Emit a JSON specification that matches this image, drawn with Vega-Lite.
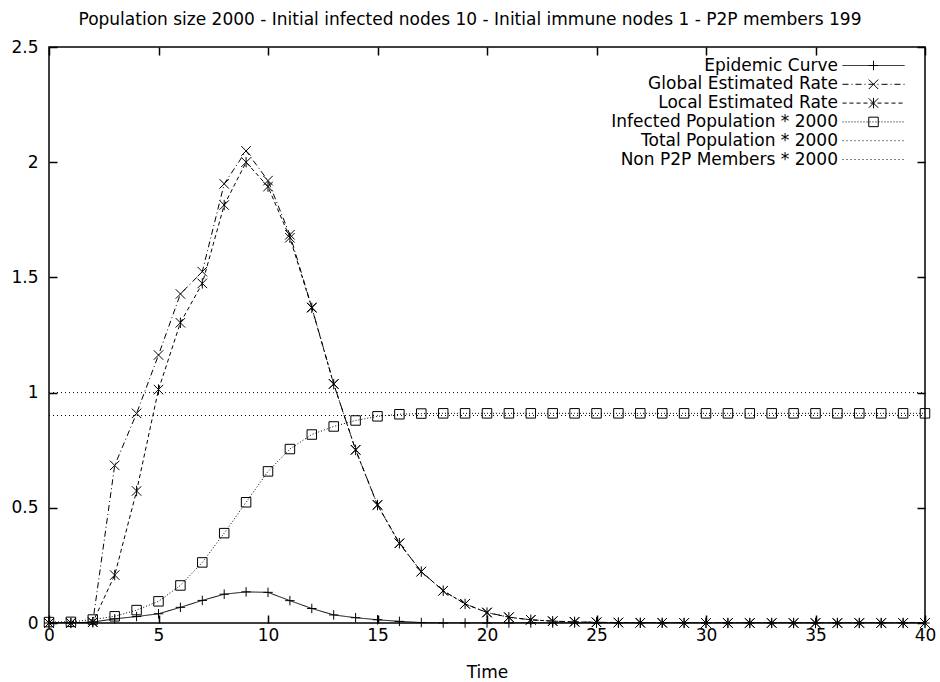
{
  "$schema": "https://vega.github.io/schema/vega-lite/v6.json",
  "width": 876,
  "height": 576,
  "autosize": {"type": "none"},
  "padding": {"left": 49, "top": 47, "right": 15, "bottom": 59},
  "background": "white",
  "title": {
    "text": "Population size 2000 - Initial infected nodes 10 - Initial immune nodes 1 - P2P members 199",
    "font": "DejaVu Sans",
    "fontSize": 17,
    "fontWeight": "normal",
    "color": "black",
    "anchor": "middle",
    "dx": -17,
    "offset": 9
  },
  "config": {
    "view": {"stroke": "black", "strokeWidth": 1.5},
    "axis": {
      "labelFont": "DejaVu Sans",
      "labelFontSize": 17,
      "labelColor": "black",
      "labelFlush": false,
      "labelOverlap": false,
      "titleFont": "DejaVu Sans",
      "titleFontSize": 17,
      "titleFontWeight": "normal",
      "titleColor": "black",
      "tickColor": "black",
      "tickWidth": 1.5,
      "tickSize": -8,
      "domain": false,
      "grid": false
    },
    "legend": {
      "padding": 0,
      "labelFont": "DejaVu Sans",
      "labelFontSize": 17,
      "labelColor": "black",
      "labelLimit": 500
    }
  },
  "data": {
    "values": [
      {"t": 0, "Epidemic Curve": 0, "Global Estimated Rate": 0, "Local Estimated Rate": 0, "Infected Population * 2000": 0.004, "Total Population * 2000": 1, "Non P2P Members * 2000": 0.9005},
      {"t": 1, "Epidemic Curve": 0, "Global Estimated Rate": 0, "Local Estimated Rate": 0, "Infected Population * 2000": 0.005, "Total Population * 2000": 1, "Non P2P Members * 2000": 0.9005},
      {"t": 2, "Epidemic Curve": 0.004, "Global Estimated Rate": 0.004, "Local Estimated Rate": 0.003, "Infected Population * 2000": 0.015, "Total Population * 2000": 1, "Non P2P Members * 2000": 0.9005},
      {"t": 3, "Epidemic Curve": 0.018, "Global Estimated Rate": 0.684, "Local Estimated Rate": 0.208, "Infected Population * 2000": 0.029, "Total Population * 2000": 1, "Non P2P Members * 2000": 0.9005},
      {"t": 4, "Epidemic Curve": 0.028, "Global Estimated Rate": 0.91, "Local Estimated Rate": 0.573, "Infected Population * 2000": 0.056, "Total Population * 2000": 1, "Non P2P Members * 2000": 0.9005},
      {"t": 5, "Epidemic Curve": 0.04, "Global Estimated Rate": 1.163, "Local Estimated Rate": 1.013, "Infected Population * 2000": 0.094, "Total Population * 2000": 1, "Non P2P Members * 2000": 0.9005},
      {"t": 6, "Epidemic Curve": 0.068, "Global Estimated Rate": 1.428, "Local Estimated Rate": 1.303, "Infected Population * 2000": 0.163, "Total Population * 2000": 1, "Non P2P Members * 2000": 0.9005},
      {"t": 7, "Epidemic Curve": 0.098, "Global Estimated Rate": 1.525, "Local Estimated Rate": 1.474, "Infected Population * 2000": 0.263, "Total Population * 2000": 1, "Non P2P Members * 2000": 0.9005},
      {"t": 8, "Epidemic Curve": 0.125, "Global Estimated Rate": 1.906, "Local Estimated Rate": 1.814, "Infected Population * 2000": 0.39, "Total Population * 2000": 1, "Non P2P Members * 2000": 0.9005},
      {"t": 9, "Epidemic Curve": 0.135, "Global Estimated Rate": 2.049, "Local Estimated Rate": 2.0, "Infected Population * 2000": 0.524, "Total Population * 2000": 1, "Non P2P Members * 2000": 0.9005},
      {"t": 10, "Epidemic Curve": 0.133, "Global Estimated Rate": 1.92, "Local Estimated Rate": 1.894, "Infected Population * 2000": 0.658, "Total Population * 2000": 1, "Non P2P Members * 2000": 0.9005},
      {"t": 11, "Epidemic Curve": 0.097, "Global Estimated Rate": 1.685, "Local Estimated Rate": 1.672, "Infected Population * 2000": 0.755, "Total Population * 2000": 1, "Non P2P Members * 2000": 0.9005},
      {"t": 12, "Epidemic Curve": 0.063, "Global Estimated Rate": 1.37, "Local Estimated Rate": 1.368, "Infected Population * 2000": 0.818, "Total Population * 2000": 1, "Non P2P Members * 2000": 0.9005},
      {"t": 13, "Epidemic Curve": 0.035, "Global Estimated Rate": 1.038, "Local Estimated Rate": 1.037, "Infected Population * 2000": 0.853, "Total Population * 2000": 1, "Non P2P Members * 2000": 0.9005},
      {"t": 14, "Epidemic Curve": 0.023, "Global Estimated Rate": 0.752, "Local Estimated Rate": 0.751, "Infected Population * 2000": 0.879, "Total Population * 2000": 1, "Non P2P Members * 2000": 0.9005},
      {"t": 15, "Epidemic Curve": 0.014, "Global Estimated Rate": 0.513, "Local Estimated Rate": 0.512, "Infected Population * 2000": 0.897, "Total Population * 2000": 1, "Non P2P Members * 2000": 0.9005},
      {"t": 16, "Epidemic Curve": 0.007, "Global Estimated Rate": 0.346, "Local Estimated Rate": 0.346, "Infected Population * 2000": 0.906, "Total Population * 2000": 1, "Non P2P Members * 2000": 0.9005},
      {"t": 17, "Epidemic Curve": 0.002, "Global Estimated Rate": 0.223, "Local Estimated Rate": 0.223, "Infected Population * 2000": 0.909, "Total Population * 2000": 1, "Non P2P Members * 2000": 0.9005},
      {"t": 18, "Epidemic Curve": 0, "Global Estimated Rate": 0.14, "Local Estimated Rate": 0.14, "Infected Population * 2000": 0.91, "Total Population * 2000": 1, "Non P2P Members * 2000": 0.9005},
      {"t": 19, "Epidemic Curve": 0, "Global Estimated Rate": 0.083, "Local Estimated Rate": 0.083, "Infected Population * 2000": 0.91, "Total Population * 2000": 1, "Non P2P Members * 2000": 0.9005},
      {"t": 20, "Epidemic Curve": 0, "Global Estimated Rate": 0.046, "Local Estimated Rate": 0.045, "Infected Population * 2000": 0.91, "Total Population * 2000": 1, "Non P2P Members * 2000": 0.9005},
      {"t": 21, "Epidemic Curve": 0, "Global Estimated Rate": 0.025, "Local Estimated Rate": 0.025, "Infected Population * 2000": 0.91, "Total Population * 2000": 1, "Non P2P Members * 2000": 0.9005},
      {"t": 22, "Epidemic Curve": 0, "Global Estimated Rate": 0.014, "Local Estimated Rate": 0.014, "Infected Population * 2000": 0.91, "Total Population * 2000": 1, "Non P2P Members * 2000": 0.9005},
      {"t": 23, "Epidemic Curve": 0, "Global Estimated Rate": 0.008, "Local Estimated Rate": 0.008, "Infected Population * 2000": 0.91, "Total Population * 2000": 1, "Non P2P Members * 2000": 0.9005},
      {"t": 24, "Epidemic Curve": 0, "Global Estimated Rate": 0.005, "Local Estimated Rate": 0.005, "Infected Population * 2000": 0.91, "Total Population * 2000": 1, "Non P2P Members * 2000": 0.9005},
      {"t": 25, "Epidemic Curve": 0, "Global Estimated Rate": 0.003, "Local Estimated Rate": 0.003, "Infected Population * 2000": 0.91, "Total Population * 2000": 1, "Non P2P Members * 2000": 0.9005},
      {"t": 26, "Epidemic Curve": 0, "Global Estimated Rate": 0.002, "Local Estimated Rate": 0.002, "Infected Population * 2000": 0.91, "Total Population * 2000": 1, "Non P2P Members * 2000": 0.9005},
      {"t": 27, "Epidemic Curve": 0, "Global Estimated Rate": 0.001, "Local Estimated Rate": 0.001, "Infected Population * 2000": 0.91, "Total Population * 2000": 1, "Non P2P Members * 2000": 0.9005},
      {"t": 28, "Epidemic Curve": 0, "Global Estimated Rate": 0.001, "Local Estimated Rate": 0.001, "Infected Population * 2000": 0.91, "Total Population * 2000": 1, "Non P2P Members * 2000": 0.9005},
      {"t": 29, "Epidemic Curve": 0, "Global Estimated Rate": 0, "Local Estimated Rate": 0, "Infected Population * 2000": 0.91, "Total Population * 2000": 1, "Non P2P Members * 2000": 0.9005},
      {"t": 30, "Epidemic Curve": 0, "Global Estimated Rate": 0, "Local Estimated Rate": 0, "Infected Population * 2000": 0.91, "Total Population * 2000": 1, "Non P2P Members * 2000": 0.9005},
      {"t": 31, "Epidemic Curve": 0, "Global Estimated Rate": 0, "Local Estimated Rate": 0, "Infected Population * 2000": 0.91, "Total Population * 2000": 1, "Non P2P Members * 2000": 0.9005},
      {"t": 32, "Epidemic Curve": 0, "Global Estimated Rate": 0, "Local Estimated Rate": 0, "Infected Population * 2000": 0.91, "Total Population * 2000": 1, "Non P2P Members * 2000": 0.9005},
      {"t": 33, "Epidemic Curve": 0, "Global Estimated Rate": 0, "Local Estimated Rate": 0, "Infected Population * 2000": 0.91, "Total Population * 2000": 1, "Non P2P Members * 2000": 0.9005},
      {"t": 34, "Epidemic Curve": 0, "Global Estimated Rate": 0, "Local Estimated Rate": 0, "Infected Population * 2000": 0.91, "Total Population * 2000": 1, "Non P2P Members * 2000": 0.9005},
      {"t": 35, "Epidemic Curve": 0, "Global Estimated Rate": 0, "Local Estimated Rate": 0, "Infected Population * 2000": 0.91, "Total Population * 2000": 1, "Non P2P Members * 2000": 0.9005},
      {"t": 36, "Epidemic Curve": 0, "Global Estimated Rate": 0, "Local Estimated Rate": 0, "Infected Population * 2000": 0.91, "Total Population * 2000": 1, "Non P2P Members * 2000": 0.9005},
      {"t": 37, "Epidemic Curve": 0, "Global Estimated Rate": 0, "Local Estimated Rate": 0, "Infected Population * 2000": 0.91, "Total Population * 2000": 1, "Non P2P Members * 2000": 0.9005},
      {"t": 38, "Epidemic Curve": 0, "Global Estimated Rate": 0, "Local Estimated Rate": 0, "Infected Population * 2000": 0.91, "Total Population * 2000": 1, "Non P2P Members * 2000": 0.9005},
      {"t": 39, "Epidemic Curve": 0, "Global Estimated Rate": 0, "Local Estimated Rate": 0, "Infected Population * 2000": 0.91, "Total Population * 2000": 1, "Non P2P Members * 2000": 0.9005},
      {"t": 40, "Epidemic Curve": 0, "Global Estimated Rate": 0, "Local Estimated Rate": 0, "Infected Population * 2000": 0.91, "Total Population * 2000": 1, "Non P2P Members * 2000": 0.9005}
    ]
  },
  "transform": [
    {"fold": ["Epidemic Curve", "Global Estimated Rate", "Local Estimated Rate", "Infected Population * 2000", "Total Population * 2000", "Non P2P Members * 2000"], "as": ["s", "v"]}
  ],
  "layer": [
    {
      "mark": {"type": "line", "stroke": "black", "strokeWidth": 1, "clip": true},
      "encoding": {
        "x": {"field": "t", "type": "quantitative", "scale": {"domain": [0, 40], "nice": false, "zero": false},
          "axis": {"orient": "bottom", "values": [0, 5, 10, 15, 20, 25, 30, 35, 40], "title": "Time", "labelPadding": 12, "titlePadding": 21}},
        "y": {"field": "v", "type": "quantitative", "scale": {"domain": [0, 2.5], "nice": false},
          "axis": {"orient": "left", "values": [0, 0.5, 1, 1.5, 2, 2.5], "format": "~g", "title": null, "labelPadding": 19}},
        "strokeDash": {"field": "s", "type": "nominal",
          "scale": {"domain": ["Epidemic Curve", "Global Estimated Rate", "Local Estimated Rate", "Infected Population * 2000", "Total Population * 2000", "Non P2P Members * 2000"],
            "range": [[1, 0], [6, 3, 1, 3], [4, 3], [1, 2], [1, 3], [1, 3]]},
          "legend": {"title": null, "orient": "none", "legendX": 816, "legendY": 10, "symbolType": "M-6.2,0H6.2", "symbolSize": 100,
            "symbolStrokeColor": "black", "symbolStrokeWidth": 1, "labelAlign": "right", "labelOffset": -44, "rowPadding": 0.8}}
      }
    },
    {
      "transform": [{"filter": {"field": "s", "oneOf": ["Epidemic Curve", "Global Estimated Rate", "Local Estimated Rate", "Infected Population * 2000"]}}],
      "mark": {"type": "point", "filled": false, "stroke": "black", "strokeWidth": 1, "size": 90, "opacity": 1, "clip": false},
      "encoding": {
        "x": {"field": "t", "type": "quantitative", "axis": {"orient": "top", "values": [0, 5, 10, 15, 20, 25, 30, 35, 40], "labels": false, "title": null}},
        "y": {"field": "v", "type": "quantitative", "axis": {"orient": "right", "values": [0, 0.5, 1, 1.5, 2, 2.5], "labels": false, "title": null}},
        "shape": {"field": "s", "type": "nominal",
          "scale": {"domain": ["Epidemic Curve", "Global Estimated Rate", "Local Estimated Rate", "Infected Population * 2000"],
            "range": ["M-1,0H1M0,-1V1", "M-1,-1L1,1M-1,1L1,-1", "M-1,-1L1,1M-1,1L1,-1M0,-1.1V1.1", "M-1,-1H1V1H-1Z"]},
          "legend": {"title": null, "orient": "none", "legendX": 816, "legendY": 10, "symbolSize": 90,
            "symbolStrokeColor": "black", "symbolFillColor": "transparent", "symbolStrokeWidth": 1, "labelAlign": "right", "labelOffset": -44, "rowPadding": 0.8, "labelOpacity": 0}}
      }
    }
  ],
  "resolve": {"axis": {"x": "independent", "y": "independent"}}
}
